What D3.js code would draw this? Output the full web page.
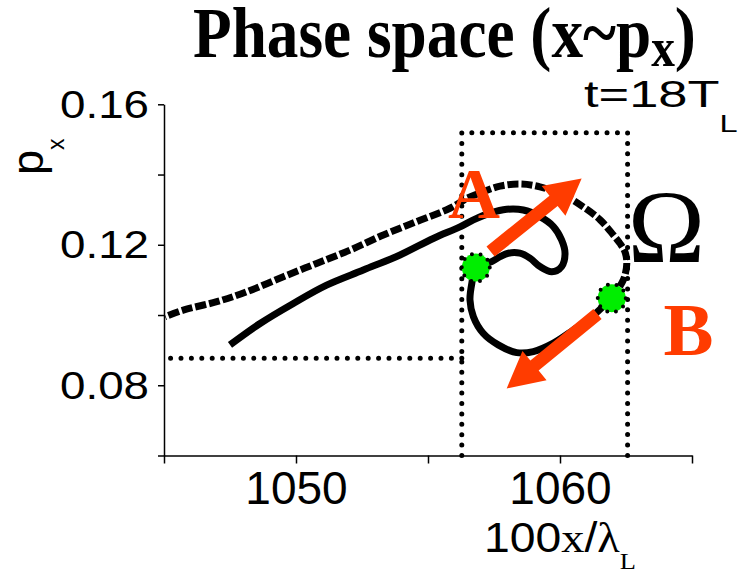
<!DOCTYPE html>
<html>
<head>
<meta charset="utf-8">
<script src="https://cdn.jsdelivr.net/npm/d3@7"></script>
<style>
  body { margin: 0; background: #fff; }
</style>
</head>
<body>
<div id="chart"></div>
<script>
// axis ticks and which of them carry a label
const xTicks = [1045, 1050, 1055, 1060, 1065];
const xLabels = [1050, 1060];
const yTicks = [0.06, 0.08, 0.10, 0.12, 0.14, 0.16];
const yLabels = [0.08, 0.12, 0.16];

// dense part of the phase space curve: lower-left start, inner S, point A, lower loop, point B
const denseX = [1047.50, 1048.64, 1049.90, 1051.16, 1052.55, 1053.94, 1055.20, 1056.21, 1056.72, 1057.35,
  1057.98, 1058.61, 1059.24, 1059.75, 1060.06, 1060.19, 1060.06, 1059.69, 1059.24, 1058.86,
  1058.48, 1058.04, 1057.73, 1057.41, 1056.81, 1056.66, 1056.59, 1056.72, 1057.09, 1057.66,
  1058.36, 1058.99, 1059.75, 1060.50, 1061.14, 1061.96];
const denseP = [0.0915, 0.0976, 0.1033, 0.1085, 0.1128, 0.1171, 0.1218, 0.1251, 0.1271, 0.1290,
  0.1301, 0.1299, 0.1280, 0.1252, 0.1214, 0.1176, 0.1138, 0.1123, 0.1138, 0.1162,
  0.1176, 0.1176, 0.1166, 0.1152, 0.1135, 0.1090, 0.1043, 0.0995, 0.0948, 0.0915,
  0.0893, 0.0896, 0.0920, 0.0957, 0.0991, 0.1048];

// sparse part: from B round the outer arc and back out to the left edge
const sparseX = [1061.96, 1062.40, 1062.53, 1062.46, 1062.27, 1062.02, 1061.52, 1060.88, 1060.25, 1059.24,
  1058.48, 1057.73, 1057.09, 1056.47, 1055.83, 1054.57, 1053.31, 1052.05, 1050.78, 1049.52,
  1048.13, 1047.00, 1045.73, 1045.04];
const sparseP = [0.1048, 0.1100, 0.1147, 0.1180, 0.1204, 0.1228, 0.1271, 0.1308, 0.1337, 0.1365,
  0.1373, 0.1367, 0.1351, 0.1332, 0.1304, 0.1266, 0.1228, 0.1185, 0.1147, 0.1109,
  0.1066, 0.1038, 0.1014, 0.0995];

// marked points A and B
const markX = [1056.81, 1061.96];
const markP = [0.1135, 0.1048];

// arrows leaving A and B
const arrowFromX = [1057.37, 1061.42];
const arrowFromP = [0.1181, 0.1003];
const arrowToX = [1060.82, 1057.98];
const arrowToP = [0.1389, 0.0791];

// dotted box (left, right) and (top, horizontal guide)
const boxX = [1056.28, 1062.56];
const boxP = [0.1519, 0.0877];

const width = 745, height = 573;
const red = "#ff3c00";
const sans = "'Liberation Sans', Arial, sans-serif";
const serif = "'Liberation Serif', 'Times New Roman', serif";

const svg = d3.select("#chart").append("svg")
  .attr("width", width)
  .attr("height", height);

const x = d3.scaleLinear().domain([1045, 1065]).range([164, 692]);
const y = d3.scaleLinear().domain([0.06, 0.16]).range([455.5, 104.3]);

// stretch a text horizontally so its box spans [left, left + w]
function fit(sel, left, w) {
  const b = sel.node().getBBox();
  const s = w / b.width;
  sel.attr("transform", `translate(${left},0) scale(${s},1) translate(${-b.x},0)`);
}

// dotted box and guide
const dotted = g => g.attr("fill", "none").attr("stroke", "#000")
  .attr("stroke-width", 5).attr("stroke-linecap", "round").attr("stroke-dasharray", "0,10.4");

svg.append("path")
  .attr("d", d3.line()([[x(boxX[0]), y(0.06)], [x(boxX[0]), y(boxP[0])], [x(boxX[1]), y(boxP[0])], [x(boxX[1]), y(0.06)]]))
  .call(dotted);
svg.append("path")
  .attr("d", d3.line()([[x(boxX[0]), y(boxP[1])], [x(1045) + 6, y(boxP[1])]]))
  .call(dotted);

// curve
const line = d3.line().x(d => x(d[0])).y(d => y(d[1])).curve(d3.curveCatmullRom);
svg.append("path")
  .attr("d", line(d3.zip(sparseX, sparseP)))
  .attr("fill", "none").attr("stroke", "#000").attr("stroke-width", 7)
  .attr("stroke-dasharray", "11,3");
svg.append("path")
  .attr("d", line(d3.zip(denseX, denseP)))
  .attr("fill", "none").attr("stroke", "#000").attr("stroke-width", 7)
  .attr("stroke-linejoin", "round");

// green points
svg.selectAll(".mark")
  .data(d3.zip(markX, markP))
  .enter().append("circle")
  .attr("cx", d => x(d[0]))
  .attr("cy", d => y(d[1]))
  .attr("r", 14)
  .attr("fill", "#00ee00")
  .attr("stroke", "#000").attr("stroke-width", 4)
  .attr("stroke-linecap", "round").attr("stroke-dasharray", "0,8.8");

// arrows
function arrow(x0, y0, x1, y1) {
  const dx = x1 - x0, dy = y1 - y0, len = Math.hypot(dx, dy);
  const ux = dx / len, uy = dy / len, nx = -uy, ny = ux;
  const hl = 36, hw = 19, sw = 6.5;
  const bx = x1 - ux * hl, by = y1 - uy * hl;
  return [[x0 + nx * sw, y0 + ny * sw], [bx + nx * sw, by + ny * sw], [bx + nx * hw, by + ny * hw],
    [x1, y1], [bx - nx * hw, by - ny * hw], [bx - nx * sw, by - ny * sw], [x0 - nx * sw, y0 - ny * sw]];
}
arrowFromX.forEach((d, i) => {
  svg.append("polygon")
    .attr("points", arrow(x(d), y(arrowFromP[i]), x(arrowToX[i]), y(arrowToP[i])).join(" "))
    .attr("fill", red);
});

// axes
const xAxis = svg.append("g")
  .attr("transform", `translate(0,${y(0.06)})`)
  .call(d3.axisBottom(x).tickValues(xTicks).tickSize(8).tickSizeOuter(0)
    .tickFormat(d => xLabels.includes(d) ? d : ""));
xAxis.selectAll("text").attr("y", 48.5).attr("dy", 0)
  .attr("font-size", 46).attr("font-family", sans).attr("fill", "#000");

const yAxis = svg.append("g")
  .attr("transform", `translate(${x(1045)},0)`)
  .call(d3.axisLeft(y).tickValues(yTicks).tickSize(6).tickSizeOuter(0)
    .tickFormat(d => yLabels.includes(d) ? d3.format(".2f")(d) : ""));
yAxis.selectAll("text").attr("dy", "0.34em")
  .attr("font-size", 38).attr("font-family", sans).attr("fill", "#000");
yAxis.selectAll("text").each(function (d) {
  if (yLabels.includes(d)) fit(d3.select(this), -15 - 89, 89);
});

[xAxis, yAxis].forEach(g => {
  g.select(".domain").attr("stroke", "#000").attr("stroke-width", 1.5);
  g.selectAll(".tick line").attr("stroke", "#000").attr("stroke-width", 1.5);
});

// title
const title = svg.append("text")
  .attr("x", 195).attr("y", 57)
  .attr("font-family", serif).attr("font-weight", "bold").attr("font-size", 72);
title.append("tspan").text("Phase space (x~p");
title.append("tspan").attr("font-size", 54).attr("dy", 9).text("x");
title.append("tspan").attr("dy", -9).text(")");
fit(title, 193, 503);

// time stamp
const stamp = svg.append("text")
  .attr("x", 585).attr("y", 107)
  .attr("font-family", sans).attr("font-size", 37);
stamp.append("tspan").text("t=18T");
stamp.append("tspan").attr("font-size", 23).attr("dy", 25).text("L");
fit(stamp, 584, 154);

// axis titles
const xTitle = svg.append("text")
  .attr("x", 486).attr("y", 552)
  .attr("font-size", 42).attr("font-family", sans);
xTitle.append("tspan").text("100");
xTitle.append("tspan").attr("font-family", serif).text("x");
xTitle.append("tspan").text("/");
xTitle.append("tspan").attr("font-family", serif).text("λ");
xTitle.append("tspan").attr("font-family", serif).attr("font-size", 24).attr("dy", 17).text("L");
fit(xTitle, 484, 152);

const yTitle = svg.append("text")
  .attr("transform", "translate(43,175) rotate(-90)")
  .attr("font-size", 45).attr("font-family", sans);
yTitle.append("tspan").text("p");
yTitle.append("tspan").attr("font-size", 23).attr("dy", 21).text("x");

// annotations
svg.append("text")
  .attr("x", x(1055.76)).attr("y", y(0.1276))
  .attr("font-family", serif).attr("font-weight", "bold").attr("font-size", 72)
  .attr("fill", red).text("A");
svg.append("text")
  .attr("x", x(1063.92)).attr("y", y(0.0886))
  .attr("font-family", serif).attr("font-weight", "bold").attr("font-size", 75)
  .attr("fill", red).text("B");
svg.append("text")
  .attr("x", x(1064.03)).attr("y", y(0.1151))
  .attr("text-anchor", "middle")
  .attr("font-family", serif).attr("font-size", 104)
  .attr("fill", "#000").text("Ω");
</script>
</body>
</html>
